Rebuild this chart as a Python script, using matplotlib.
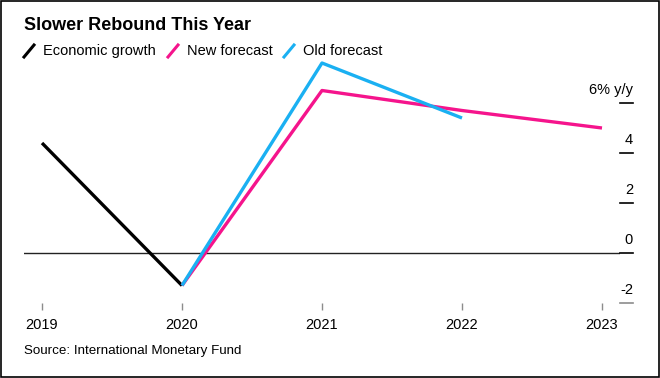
import matplotlib.pyplot as plt
from matplotlib.lines import Line2D

plt.rcParams['font.family'] = ['Liberation Sans', 'DejaVu Sans']

years_growth = [2019, 2020]
growth = [4.4, -1.3]

years_new = [2020, 2021, 2022, 2023]
new_forecast = [-1.3, 6.5, 5.7, 5.0]

years_old = [2020, 2021, 2022]
old_forecast = [-1.3, 7.6, 5.4]

x_ticks = [2019, 2020, 2021, 2022, 2023]
y_ticks = [6, 4, 2, 0, -2]
y_labels = ['6% y/y', '4', '2', '0', '-2']

black = '#000000'
pink = '#f5148c'
blue = '#1ab0f2'
gray = '#8c8c8c'

fig = plt.figure(figsize=(6.6, 3.78), dpi=100)
ax = fig.add_axes([24 / 660, 1 - 303 / 378, 596 / 660, 250 / 378])

ax.axhline(0, color='#222222', lw=1.0, zorder=1)
ax.plot(years_growth, growth, color=black, lw=2.4, solid_capstyle='butt', zorder=3)
ax.plot(years_new, new_forecast, color=pink, lw=2.4, solid_capstyle='butt', zorder=3)
ax.plot(years_old, old_forecast, color=blue, lw=2.4, solid_capstyle='butt', zorder=4)

ax.set_xlim(2019 - 18 / 140, 2023 + 18 / 140)
ax.set_ylim(-2, 8)
for s in ax.spines.values():
    s.set_visible(False)
ax.set_yticks([])
ax.set_xticks(x_ticks)
ax.set_xticklabels([str(y) for y in x_ticks], fontsize=10.5)
ax.tick_params(axis='x', length=5, width=1, color=gray, pad=6)

# right-hand tick marks with labels above them
for v, lab in zip(y_ticks, y_labels):
    c = gray if v == -2 else black
    ax.add_line(Line2D([1.0, 1.022], [v, v], transform=ax.get_yaxis_transform(),
                       color=c, lw=1.2, clip_on=False))
    ax.annotate(lab, xy=(1.022, v), xycoords=ax.get_yaxis_transform(),
                xytext=(0, 4), textcoords='offset points',
                ha='right', va='bottom', fontsize=10.5)

# title and legend
fig.text(24 / 660, 1 - 25 / 378, 'Slower Rebound This Year', fontsize=13,
         fontweight='bold', va='center', ha='left')
legend_items = [('Economic growth', black, 24), ('New forecast', pink, 168),
                ('Old forecast', blue, 284)]
for lab, c, x0 in legend_items:
    fig.add_artist(Line2D([x0 / 660, (x0 + 10) / 660],
                          [1 - 57 / 378, 1 - 45 / 378], color=c, lw=2.2))
    fig.text((x0 + 19) / 660, 1 - 51 / 378, lab, fontsize=10.5, va='center', ha='left')

fig.text(24 / 660, 1 - 351 / 378, 'Source: International Monetary Fund', fontsize=9.6,
         va='center', ha='left')

# frame around the figure
fig.add_artist(plt.Rectangle((0.001, 0.002), 0.997, 0.996, transform=fig.transFigure,
                             fill=False, edgecolor='black', lw=1.2))

fig.savefig('out.png', dpi=100)
